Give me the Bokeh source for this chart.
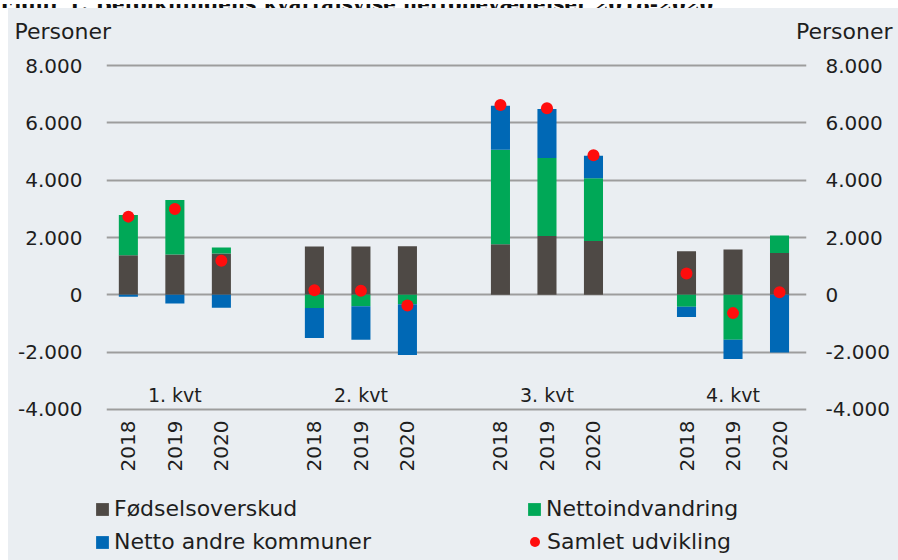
from bokeh.plotting import figure
from bokeh.models import (Range1d, LinearAxis, FixedTicker, Legend, LegendItem,
                          Label, ColumnDataSource, Div)
from bokeh.layouts import column, row
from bokeh.core.properties import value
from bokeh.embed import file_html
from bokeh.resources import INLINE
import math

# ---------------- data ----------------
chart_title = "Figur 1. Befolkningens kvartalsvise nettobevægelser 2018-2020"
quarters = ["1. kvt", "2. kvt", "3. kvt", "4. kvt"]
years = ["2018", "2019", "2020"]

foedselsoverskud = [1383, 1404, 1439, 1683, 1683, 1697, 1766, 2056, 1881, 1522, 1579, 1463]
nettoindvandring = [1404, 1906, 209, -463, -394, -325, 3296, 2717, 2185, -418, -1568, 603]
netto_andre_kommuner = [-70, -303, -453, -1046, -1174, -1776, 1533, 1707, 787, -359, -673, -2010]
samlet_udvikling = [2728, 2996, 1185, 163, 140, -372, 6620, 6505, 4867, 742, -638, 94]

y_ticks = [-4000, -2000, 0, 2000, 4000, 6000, 8000]
y_tick_labels = ["-4.000", "-2.000", "0", "2.000", "4.000", "6.000", "8.000"]

series_names = ["Fødselsoverskud", "Nettoindvandring", "Netto andre kommuner", "Samlet udvikling"]
series_colors = ["#4e4945", "#00a857", "#0068b5", "#ff0d0d"]
axis_title = "Personer"

FONT = "DejaVu Sans"
TXT = "#1e1e1e"
BG = "#eaeef2"
W = 890

# ---------------- positions ----------------
xs = []
x_year = []
for qi in range(len(quarters)):
    for yi in range(len(years)):
        xs.append(qi * (len(years) + 1) + yi)
        x_year.append(years[yi])
q_centers = [qi * (len(years) + 1) + 1 for qi in range(len(quarters))]

# stacked segments (positive upward, negative downward)
pos_base = [0.0] * len(xs)
neg_base = [0.0] * len(xs)
segments = []
for vals in [foedselsoverskud, nettoindvandring, netto_andre_kommuner]:
    bottoms, tops = [], []
    for i, v in enumerate(vals):
        if v >= 0:
            b, t = pos_base[i], pos_base[i] + v
            pos_base[i] = t
        else:
            t, b = neg_base[i], neg_base[i] + v
            neg_base[i] = b
        bottoms.append(b)
        tops.append(t)
    segments.append((bottoms, tops))


def bare_figure(h, xr, yr):
    f = figure(width=W, height=h, output_backend="svg", toolbar_location=None,
               x_range=xr, y_range=yr, min_border=0,
               x_axis_location=None, y_axis_location=None)
    f.background_fill_color = BG
    f.border_fill_color = BG
    f.outline_line_color = None
    f.grid.visible = False
    return f


# ---------------- top strip with axis titles ----------------
TOP_H = 47
top = bare_figure(TOP_H, Range1d(0, W), Range1d(0, TOP_H))
top.add_layout(Label(x=6, y=TOP_H - 23, text=axis_title, text_font=FONT,
                     text_font_size="22px", text_color=TXT,
                     text_align="left", text_baseline="middle"))
top.add_layout(Label(x=W - 6, y=TOP_H - 23, text=axis_title, text_font=FONT,
                     text_font_size="22px", text_color=TXT,
                     text_align="right", text_baseline="middle"))

# ---------------- main chart ----------------
p = figure(width=W, height=425, output_backend="svg", toolbar_location=None,
           x_range=Range1d(-0.47, 14.58), y_range=Range1d(-4070, 8070),
           min_border_left=98, min_border_right=92, min_border_top=8,
           min_border_bottom=69, y_axis_location=None)
p.background_fill_color = BG
p.border_fill_color = BG
p.outline_line_color = None

p.xgrid.grid_line_color = None
p.ygrid.ticker = FixedTicker(ticks=y_ticks)
p.ygrid.grid_line_color = "#9d9d9d"
p.ygrid.grid_line_width = 2

for (bottoms, tops), col in zip(segments, series_colors[:3]):
    src = ColumnDataSource(dict(x=xs, bottom=bottoms, top=tops))
    p.vbar(x="x", bottom="bottom", top="top", width=0.41, source=src,
           fill_color=col, line_color=None)

p.scatter(xs, samlet_udvikling, size=12, marker="circle",
          fill_color=series_colors[3], line_color=None)

# quarter labels inside the frame
p.text(x=q_centers, y=[-3480] * len(q_centers), text=quarters,
       text_font=value(FONT), text_font_size="19px", text_color=TXT,
       text_align="center", text_baseline="middle")

# x axis (years)
xa = p.xaxis[0]
xa.ticker = FixedTicker(ticks=xs)
xa.major_label_overrides = {x: y for x, y in zip(xs, x_year)}
xa.major_label_orientation = math.pi / 2
xa.axis_line_color = None
xa.major_tick_line_color = None
xa.minor_tick_line_color = None
xa.major_tick_out = 0
xa.major_tick_in = 0
xa.major_label_standoff = 9
xa.major_label_text_font = FONT
xa.major_label_text_font_size = "20px"
xa.major_label_text_color = TXT

# y axes left and right
for side, standoff in (("left", 24), ("right", 19)):
    ya = LinearAxis(ticker=FixedTicker(ticks=y_ticks),
                    major_label_overrides={t: l for t, l in zip(y_ticks, y_tick_labels)})
    ya.axis_line_color = None
    ya.major_tick_line_color = None
    ya.minor_tick_line_color = None
    ya.major_tick_out = 0
    ya.major_tick_in = 0
    ya.major_label_standoff = standoff
    ya.major_label_text_font = FONT
    ya.major_label_text_font_size = "20px"
    ya.major_label_text_color = TXT
    p.add_layout(ya, side)

# ---------------- legend strip ----------------
LEG_H = 80
leg = bare_figure(LEG_H, Range1d(-100, -90), Range1d(-100, -90))
leg_renderers = []
for (bottoms, tops), col in zip(segments, series_colors[:3]):
    src = ColumnDataSource(dict(x=xs, bottom=bottoms, top=tops))
    r = leg.vbar(x="x", bottom="bottom", top="top", width=0.41,
                 source=src, fill_color=col, line_color=None)
    r.visible = False
    leg_renderers.append(r)
r = leg.scatter(xs, samlet_udvikling, size=12, marker="circle",
                fill_color=series_colors[3], line_color=None)
r.visible = False
leg_renderers.append(r)

legend_style = dict(padding=0, margin=0, border_line_alpha=0,
                    background_fill_alpha=0, inactive_fill_alpha=0,
                    label_text_font=FONT, label_text_font_size="22px",
                    label_text_color=TXT)
legend_a = Legend(items=[LegendItem(label=series_names[0], renderers=[leg_renderers[0]]),
                         LegendItem(label=series_names[2], renderers=[leg_renderers[2]]),
                         LegendItem(label=series_names[1], renderers=[leg_renderers[1]])],
                  location=(86, 6), ncols=2, glyph_width=16, glyph_height=16,
                  label_standoff=4, label_width=404, spacing=8, **legend_style)
legend_b = Legend(items=[LegendItem(label=series_names[3], renderers=[leg_renderers[3]])],
                  location=(514, 6), glyph_width=25, glyph_height=25,
                  label_standoff=0, **legend_style)
leg.add_layout(legend_a, "center")
leg.add_layout(legend_b, "center")

# ---------------- cut-off title strip above the chart ----------------
title_div = Div(
    text=('<div style="position:relative;height:8px;overflow:hidden;width:898px">'
          '<div style="position:absolute;left:0;top:-10px;white-space:nowrap;'
          'font-family:\'DejaVu Serif\';font-weight:bold;font-size:19.9px;'
          'line-height:20px;color:#111">' + chart_title + '</div></div>'),
    width=898, height=8, margin=(0, 0, 0, 0),
    styles={"overflow": "hidden"})

chart = column(row(top), p, row(leg), spacing=0, margin=(0, 0, 0, 8),
               styles={"background-color": BG})
layout = column(title_div, chart, spacing=0)
open("out.html", "w").write(file_html(layout, INLINE))
